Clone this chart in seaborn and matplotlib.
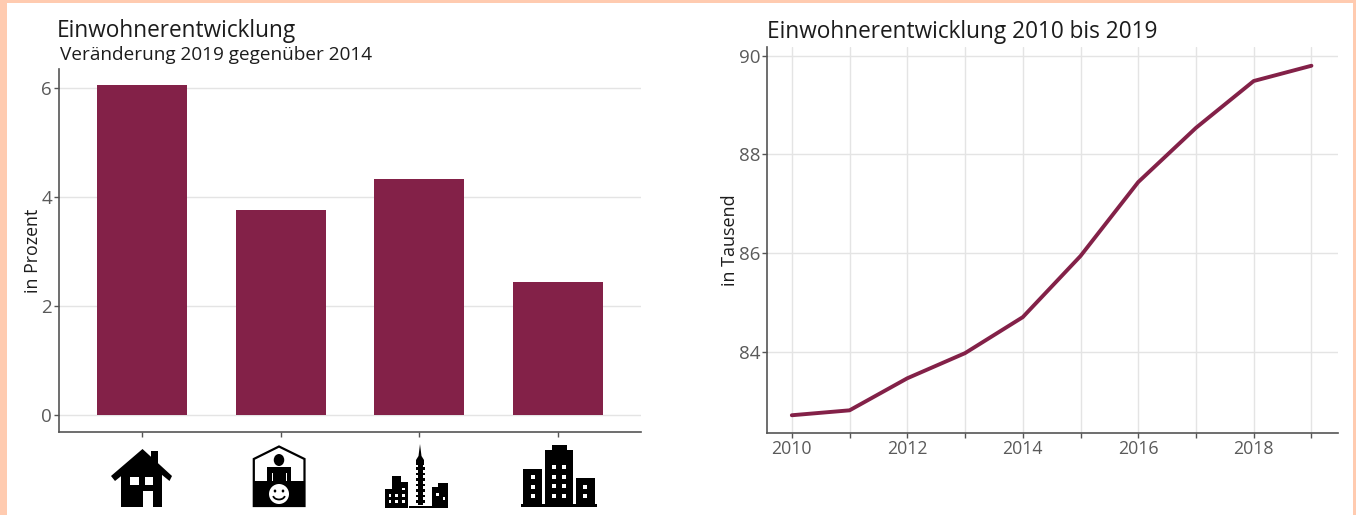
import matplotlib
matplotlib.use("Agg")
import matplotlib.pyplot as plt
import matplotlib.patches as mp
import pandas as pd
import seaborn as sns

# values
gebiete = ["Land", "Vorort", "Zentrum", "Stadt"]
veraenderung = [6.05, 3.75, 4.32, 2.44]
jahre = [2010, 2011, 2012, 2013, 2014, 2015, 2016, 2017, 2018, 2019]
einwohner = [82.71, 82.81, 83.46, 83.97, 84.70, 85.94, 87.44, 88.54, 89.49, 89.80]
y_ticks_links = [0, 2, 4, 6]
y_ticks_rechts = [84, 86, 88, 90]
jahr_labels = ["2010", "", "2012", "", "2014", "", "2016", "", "2018", ""]

W, H = 1356, 515
ROT = "#832148"
GRID = "#e4e4e4"
ACHSE = "#555555"
TICK = "#5a5a5a"
TEXT = "#1c1c1c"

sns.set_theme(style="white")
plt.rcParams["font.family"] = ["Open Sans", "DejaVu Sans"]

fig = plt.figure(figsize=(W / 100, H / 100), dpi=100, facecolor="#ffcbb0")


def box(x0, y0, x1, y1):
    return [x0 / W, 1 - y1 / H, (x1 - x0) / W, (y1 - y0) / H]


# white panel + overlay in pixel coordinates
bg = fig.add_axes([0, 0, 1, 1], zorder=0)
bg.set_xlim(0, W)
bg.set_ylim(H, 0)
bg.axis("off")
bg.add_patch(mp.Rectangle((7, 3), W - 10, H - 3, fc="white", ec="none"))

ax1 = fig.add_axes(box(59, 69, 641, 432), zorder=1)
ax2 = fig.add_axes(box(767, 47, 1338, 433), zorder=1)
ov = fig.add_axes([0, 0, 1, 1], zorder=2)
ov.set_xlim(0, W)
ov.set_ylim(H, 0)
ov.axis("off")

df1 = pd.DataFrame({"gebiet": gebiete, "wert": veraenderung})
sns.barplot(data=df1, x="gebiet", y="wert", color=ROT, saturation=1, width=0.65,
            linewidth=0, ax=ax1, zorder=3)
ax1.set_xlim(-0.6, 3.6)
ax1.set_ylim(-0.31, 6.34)
ax1.set_yticks(y_ticks_links)
ax1.set_xticks(range(4))
ax1.set_xticklabels([])
ax1.set_xlabel("")
ax1.set_ylabel("in Prozent", fontsize=12.8, color=TEXT)
ax1.yaxis.set_label_coords(-0.029, 0.5)
ax1.grid(axis="y", color=GRID, lw=1)
ax1.grid(axis="x", visible=False)

df2 = pd.DataFrame({"jahr": jahre, "wert": einwohner})
sns.lineplot(data=df2, x="jahr", y="wert", color=ROT, lw=2.8, ax=ax2, zorder=3)
ax2.set_xlim(2009.57, 2019.46)
ax2.set_ylim(82.35, 90.18)
ax2.set_xticks(jahre)
ax2.set_xticklabels(jahr_labels)
ax2.set_yticks(y_ticks_rechts)
ax2.set_xlabel("")
ax2.set_ylabel("in Tausend", fontsize=13, color=TEXT)
ax2.yaxis.set_label_coords(-0.049, 0.5)
ax2.grid(color=GRID, lw=1)

for ax in (ax1, ax2):
    ax.set_facecolor("none")
    ax.set_axisbelow(True)
    sns.despine(ax=ax)
    for s in ("left", "bottom"):
        ax.spines[s].set_color(ACHSE)
        ax.spines[s].set_linewidth(1.2)
    ax.tick_params(axis="both", length=3.5, width=1, color=ACHSE, labelcolor=TICK,
                   labelsize=13.5, pad=1.5, bottom=True, left=True)
ax2.tick_params(axis="x", labelsize=12.8)


def rect(x0, y0, x1, y1, c="black"):
    ov.add_patch(mp.Rectangle((x0, y0), x1 - x0, y1 - y0, fc=c, ec="none"))


def poly(pts, c="black"):
    ov.add_patch(mp.Polygon(pts, closed=True, fc=c, ec="none"))


def fenster(xs, ys, w, h):
    for x in xs:
        for y in ys:
            rect(x - w / 2, y - h / 2, x + w / 2, y + h / 2, "white")


# house icon
rect(150.5, 451, 158, 470)
poly([(142.5, 449), (172, 476), (169.5, 481), (142.5, 459), (115, 481), (111, 476)])
poly([(142.5, 455), (162, 472), (162, 507), (121, 507), (121, 472)])
fenster([134.7, 149], [481], 8.5, 8.5)
rect(143, 491, 152.5, 507, "white")

# person icon
ov.add_patch(mp.Polygon([(253.8, 459), (279, 446.5), (304.5, 459), (304.5, 506), (253.8, 506)],
                        closed=True, fc="white", ec="black", lw=1.6))
rect(253, 481, 305, 507)
ov.add_patch(mp.Ellipse((279, 460), 10.5, 12, fc="black", ec="none"))
rect(267, 467, 291, 481)
rect(271.5, 473, 272.7, 481, "white")
rect(285.5, 473, 286.7, 481, "white")
ov.add_patch(mp.Ellipse((279, 494), 20, 20, fc="white", ec="none"))
ov.add_patch(mp.Ellipse((275, 491), 2.6, 3, fc="black", ec="none"))
ov.add_patch(mp.Ellipse((283, 491), 2.6, 3, fc="black", ec="none"))
ov.add_patch(mp.Arc((279, 495), 12, 9, theta1=10, theta2=170, color="black", lw=1.3))

# tower city icon
rect(385, 489, 392, 507.5)
rect(391.7, 475.7, 400.7, 507.5)
rect(400, 481.7, 408.3, 507.5)
rect(431.7, 486.7, 438.5, 507.5)
rect(438, 483, 447.7, 507.5)
poly([(420, 444), (421.5, 456), (424, 460), (424, 465), (416, 465), (416, 460), (418.5, 456)])
rect(417.5, 464, 422.5, 505)
for yy in (467, 472.5, 478, 483.5, 489, 494.5, 500):
    rect(415.5, yy, 424.5, yy + 2.6)
rect(409, 505.5, 432, 507.5)
fenster([390, 396.7, 403.3], [495.7, 501.7], 2.6, 2.8)
fenster([403.3], [489], 2.6, 2.8)
fenster([437.3], [494.3], 2.8, 3)
fenster([444], [498], 2.8, 3)

# buildings icon
rect(552.3, 445, 566.7, 452)
rect(545, 450, 573.3, 507)
rect(523.3, 469.3, 542.3, 507)
rect(576, 478.3, 595, 507)
rect(520.7, 504, 597.3, 507.3)
fenster([554.3, 564.3], [466.7, 476.7, 486, 495.7], 4, 4)
fenster([532.7], [477.3, 486.7, 496.3], 4, 4)
fenster([585.3], [486.7, 496.3], 4, 4)

ov.text(57, 37, "Einwohnerentwicklung", fontsize=16.3, color=TEXT, va="baseline")
ov.text(60, 60, "Veränderung 2019 gegenüber 2014", fontsize=13.7, color=TEXT, va="baseline")
ov.text(767, 38, "Einwohnerentwicklung 2010 bis 2019", fontsize=16.3, color=TEXT, va="baseline")

fig.savefig("out.png", dpi=100, facecolor=fig.get_facecolor())
